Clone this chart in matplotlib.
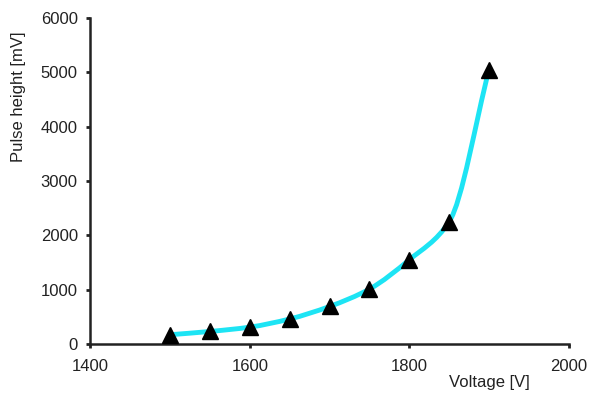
import matplotlib
matplotlib.use('Agg')
import matplotlib.pyplot as plt
from matplotlib.path import Path
from matplotlib.patches import PathPatch

voltage = [1500, 1550, 1600, 1650, 1700, 1750, 1800, 1850, 1900]
pulse = [170, 230, 310, 460, 690, 1010, 1550, 2250, 5050]
xticks = [1400, 1600, 1800, 2000]
yticks = [0, 1000, 2000, 3000, 4000, 5000, 6000]

plt.rcParams['font.family'] = ['Liberation Sans', 'DejaVu Sans']

fig = plt.figure(figsize=(5.9, 3.94), dpi=100)
ax = fig.add_axes([0.153, 0.127, 0.811, 0.827])

# smooth monotone line through the points, drawn as bezier segments
n = len(voltage)
d = [(pulse[i + 1] - pulse[i]) / (voltage[i + 1] - voltage[i]) for i in range(n - 1)]
m = [d[0]] + [2 / (1 / d[i - 1] + 1 / d[i]) for i in range(1, n - 1)] + [d[-1]]
verts = [(voltage[0], pulse[0])]
codes = [Path.MOVETO]
for i in range(n - 1):
    h = voltage[i + 1] - voltage[i]
    verts += [(voltage[i] + h / 3, pulse[i] + m[i] * h / 3),
              (voltage[i + 1] - h / 3, pulse[i + 1] - m[i + 1] * h / 3),
              (voltage[i + 1], pulse[i + 1])]
    codes += [Path.CURVE4] * 3
ax.add_patch(PathPatch(Path(verts, codes), facecolor='none', edgecolor='#1de4f4',
                       linewidth=3.5, capstyle='round', joinstyle='round', zorder=2))
ax.plot(voltage, pulse, linestyle='none', marker='^', markersize=12,
        color='black', zorder=3)

ax.set_xlim(1400, 2000)
ax.set_ylim(0, 6000)
ax.set_xticks(xticks)
ax.set_yticks(yticks)
ax.tick_params(direction='out', length=3, width=2, labelsize=12,
               colors='#222222', pad=6)
ax.tick_params(axis='x', pad=8)

for s in ['top', 'right']:
    ax.spines[s].set_visible(False)
for s in ['left', 'bottom']:
    ax.spines[s].set_linewidth(1.8)
    ax.spines[s].set_color('#222222')

ax.set_xlabel('Voltage [V]', fontsize=12, color='#222222')
ax.xaxis.set_label_coords(0.835, -0.095)
ax.set_ylabel('Pulse height [mV]', fontsize=12, color='#222222')
ax.yaxis.set_label_coords(-0.135, 0.76)

fig.savefig('out.png', dpi=100)
